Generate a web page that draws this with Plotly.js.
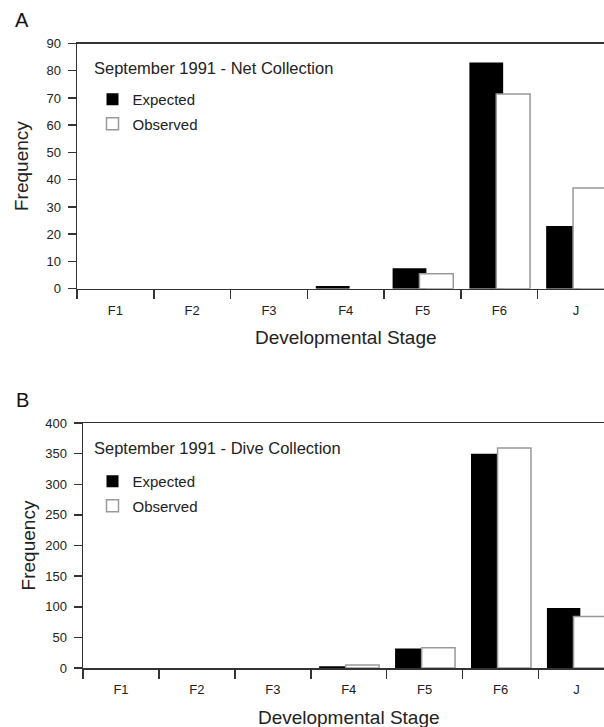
<!DOCTYPE html>
<html>
<head>
<meta charset="utf-8">
<script src="https://cdn.plot.ly/plotly-3.0.1.min.js"></script>
<style>
  html, body { margin: 0; padding: 0; width: 604px; height: 727px; overflow: hidden; background: #fff; }
  #chart { width: 640px; height: 760px; }
</style>
</head>
<body>
<div id="chart"></div>
<script>
// ---- Data ----
const stages = ["F1", "F2", "F3", "F4", "F5", "F6", "J"];
const netExpected = [0, 0, 0, 1, 7.5, 83, 23];
const netObserved = [0, 0, 0, 0, 5.5, 71.5, 37];
const diveExpected = [0, 0, 0, 3, 32, 350, 98];
const diveObserved = [0, 0, 0, 5, 33, 359, 84];
const seriesNames = ["Expected", "Observed"];
const panelTitles = ["September 1991 - Net Collection", "September 1991 - Dive Collection"];
const panelLetters = ["A", "B"];
const yTitle = "Frequency";
const xTitle = "Developmental Stage";

// ---- Layout constants ----
const W = 640, H = 760;   // the page (604x727) shows the top-left part, as in the cropped original
const FONT = "Liberation Sans, Arial, sans-serif";
const TXT = "#222";
const AX = "#333";
const px = x => x / W;
const py = y => 1 - y / H;
// zero-height bars are left undrawn so their outline does not sit on the axis
const nz = arr => arr.map(v => (v > 0 ? v : null));

function expTrace(y, xa, ya, lg) {
  return {
    type: "bar", x: stages, y: y, name: seriesNames[0],
    xaxis: xa, yaxis: ya, legend: lg, legendgroup: lg + "e",
    offset: -0.39, width: 0.44,
    marker: { color: "#000", line: { color: "#000", width: 0 } },
    hoverinfo: "x+y"
  };
}
function obsTrace(y, xa, ya, lg) {
  return {
    type: "bar", x: stages, y: nz(y), name: seriesNames[1],
    xaxis: xa, yaxis: ya, legend: lg, legendgroup: lg + "o",
    offset: -0.04, width: 0.44,
    marker: { color: "#fff", line: { color: "#999", width: 1.5 } },
    hoverinfo: "x+y"
  };
}

const data = [
  expTrace(netExpected, "x", "y", "legend"),
  obsTrace(netObserved, "x", "y", "legend"),
  expTrace(diveExpected, "x2", "y2", "legend2"),
  obsTrace(diveObserved, "x2", "y2", "legend2")
];

function xAxis(domain, anchor) {
  return {
    domain: domain, anchor: anchor, type: "category",
    categoryorder: "array", categoryarray: stages,
    range: [-0.5, 6.5],
    tickson: "boundaries", ticks: "outside", ticklen: 9, tickwidth: 1.5, tickcolor: AX,
    ticklabelstandoff: 9,
    showline: true, linecolor: AX, linewidth: 1.5, mirror: true,
    showgrid: false, zeroline: false,
    tickfont: { family: FONT, size: 13, color: TXT },
    automargin: true,
    title: { text: xTitle, font: { family: FONT, size: 19, color: TXT }, standoff: 14 },
    fixedrange: true
  };
}
function yAxis(domain, anchor, range, dtick) {
  return {
    domain: domain, anchor: anchor, range: range, dtick: dtick,
    ticks: "outside", ticklen: 8, tickwidth: 1.5, tickcolor: AX,
    ticklabelstandoff: 4,
    showline: true, linecolor: AX, linewidth: 1.5, mirror: true,
    showgrid: false, zeroline: false,
    tickfont: { family: FONT, size: 13, color: TXT },
    automargin: false,
    title: { text: yTitle, font: { family: FONT, size: 19, color: TXT } },
    fixedrange: true
  };
}
function legend(x, y) {
  return {
    x: x, y: y, xanchor: "left", yanchor: "top",
    bgcolor: "rgba(0,0,0,0)", borderwidth: 0,
    traceorder: "grouped", tracegroupgap: 2,
    font: { family: FONT, size: 15, color: TXT }
  };
}

function panelTitle(text, y) {
  return { text: text, xref: "paper", yref: "paper", x: px(92), y: py(y),
    xanchor: "left", yanchor: "middle", showarrow: false,
    font: { family: FONT, size: 16.5, color: TXT } };
}
function panelLetter(text, y) {
  return { text: text, xref: "paper", yref: "paper", x: px(22), y: py(y),
    xanchor: "center", yanchor: "middle", showarrow: false,
    font: { family: FONT, size: 20, color: "#111" } };
}

const layout = {
  width: W, height: H,
  margin: { l: 0, r: 0, t: 0, b: 0 },
  paper_bgcolor: "#fff", plot_bgcolor: "#fff",
  barmode: "overlay",
  showlegend: true,
  xaxis: xAxis([px(77), px(614.5)], "y"),
  yaxis: yAxis([py(288.7), py(43.5)], "x", [0, 90], 10),
  xaxis2: xAxis([px(83), px(614.5)], "y2"),
  yaxis2: yAxis([py(668), py(423)], "x2", [0, 400], 50),
  legend: legend(px(92.5), py(83)),
  legend2: legend(px(92.5), py(465)),
  annotations: [
    panelLetter(panelLetters[0], 20),
    panelLetter(panelLetters[1], 400),
    panelTitle(panelTitles[0], 68),
    panelTitle(panelTitles[1], 448)
  ]
};

Plotly.newPlot("chart", data, layout, { displayModeBar: false, staticPlot: true });
</script>
</body>
</html>
